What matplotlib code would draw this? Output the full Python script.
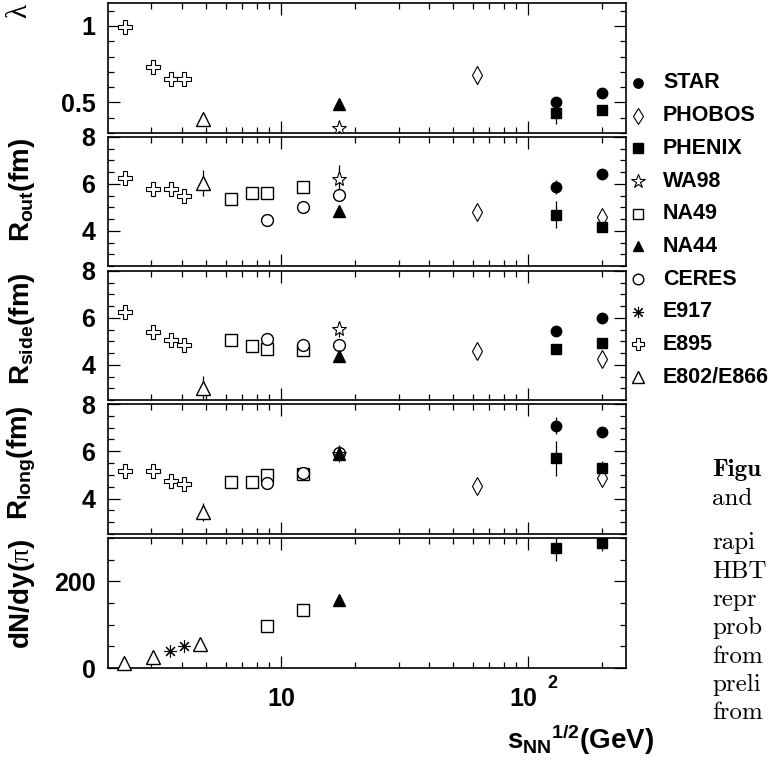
import matplotlib
matplotlib.use('Agg')
import matplotlib.pyplot as plt
from matplotlib.lines import Line2D

plt.rcParams['font.family'] = ['Liberation Sans', 'DejaVu Sans']
plt.rcParams['font.weight'] = 'bold'
plt.rcParams['mathtext.fontset'] = 'custom'
plt.rcParams['mathtext.rm'] = 'Liberation Sans:bold'
plt.rcParams['mathtext.it'] = 'Liberation Sans:bold'
plt.rcParams['mathtext.bf'] = 'Liberation Sans:bold'
plt.rcParams['mathtext.sf'] = 'Liberation Serif:normal'

# ---------------- data ----------------
STAR_s = [130, 200]
STAR_lambda = [0.50, 0.56]; STAR_lambda_err = [0.02, 0.03]
STAR_rout = [5.86, 6.41]; STAR_rout_err = [0.3, 0.1]
STAR_rside = [5.46, 6.01]; STAR_rside_err = [0.15, 0.1]
STAR_rlong = [7.08, 6.80]; STAR_rlong_err = [0.35, 0.1]

PHOBOS_s = [62.4, 200]
PHOBOS_lambda_s = [62.4]
PHOBOS_lambda = [0.68]; PHOBOS_lambda_err = [0.06]
PHOBOS_rout = [4.82, 4.58]; PHOBOS_rout_err = [0.2, 0.2]
PHOBOS_rside = [4.60, 4.25]; PHOBOS_rside_err = [0.3, 0.25]
PHOBOS_rlong = [4.55, 4.88]; PHOBOS_rlong_err = [0.1, 0.2]

PHENIX_s = [130, 200]
PHENIX_lambda = [0.43, 0.45]; PHENIX_lambda_err = [0.07, 0.02]
PHENIX_rout = [4.68, 4.16]; PHENIX_rout_err = [0.57, 0.15]
PHENIX_rside = [4.67, 4.95]; PHENIX_rside_err = [0.2, 0.15]
PHENIX_rlong = [5.70, 5.30]; PHENIX_rlong_err = [0.73, 0.3]
PHENIX_dndy = [278, 288]; PHENIX_dndy_err = [32, 18]

WA98_s = [17.3]
WA98_lambda = [0.33]; WA98_lambda_err = [0.02]
WA98_rout = [6.20]; WA98_rout_err = [0.6]
WA98_rside = [5.53]; WA98_rside_err = [0.35]
WA98_rlong = [5.90]; WA98_rlong_err = [0.35]

NA49_s = [6.27, 7.62, 8.77, 12.3]
NA49_rout = [5.35, 5.60, 5.60, 5.86]
NA49_rside = [5.06, 4.80, 4.68, 4.64]
NA49_rlong = [4.70, 4.72, 4.98, 5.02]
NA49_dndy_s = [8.77, 12.3]
NA49_dndy = [98, 133]

NA44_s = [17.3]
NA44_lambda = [0.49]
NA44_rout = [4.85]
NA44_rside = [4.38]; NA44_rside_err = [0.2]
NA44_rlong = [5.90]
NA44_dndy = [156]

CERES_s = [8.77, 12.3, 17.3]
CERES_rout = [4.47, 5.00, 5.53]; CERES_rout_err = [0.05, 0.05, 0.25]
CERES_rside = [5.10, 4.85, 4.85]; CERES_rside_err = [0.05, 0.05, 0.25]
CERES_rlong = [4.67, 5.10, 5.94]; CERES_rlong_err = [0.05, 0.05, 0.2]

E917_s = [3.58, 4.08]
E917_dndy = [40, 51]

E895_s = [2.35, 3.04, 3.59, 4.05]
E895_lambda = [0.99, 0.73, 0.65, 0.65]; E895_lambda_err = [0.04, 0.03, 0.03, 0.04]
E895_rout = [6.24, 5.77, 5.77, 5.50]; E895_rout_err = [0.1, 0.1, 0.1, 0.15]
E895_rside = [6.27, 5.42, 5.06, 4.85]; E895_rside_err = [0.1, 0.1, 0.1, 0.1]
E895_rlong = [5.16, 5.16, 4.74, 4.63]; E895_rlong_err = [0.1, 0.1, 0.1, 0.1]

E802_s = [4.87]
E802_lambda = [0.39]
E802_rout = [6.05]; E802_rout_err = [0.55]
E802_rside = [3.03]; E802_rside_err = [0.5]
E802_rlong = [3.43]; E802_rlong_err = [0.4]
E802_dndy_s = [2.32, 3.05, 4.70]
E802_dndy = [12, 26, 56]

legend_names = ['STAR', 'PHOBOS', 'PHENIX', 'WA98', 'NA49', 'NA44',
                'CERES', 'E917', 'E895', 'E802/E866']
ylabels = [r'$\mathsf{\lambda}$', r'$R_{out}(fm)$', r'$R_{side}(fm)$',
           r'$R_{long}(fm)$', r'$dN/dy(\mathsf{\pi})$']
# visible part of the caption, cut by the right edge in the source picture
caption_lines = ['Figu', 'and', 'rapi', 'HBT', 'repr',
                 'prob', 'from', 'preli', 'from']

# ---------------- styles ----------------
styles = {
    'STAR': dict(marker='o', mfc='k', ms=7.5),
    'PHOBOS': dict(marker='d', mfc='w', ms=9, mew=0.8),
    'PHENIX': dict(marker='s', mfc='k', ms=7.5),
    'WA98': dict(marker='*', mfc='w', ms=11, mew=0.8),
    'NA49': dict(marker='s', mfc='w', ms=8.5),
    'NA44': dict(marker='^', mfc='k', ms=8.5),
    'CERES': dict(marker='o', mfc='w', ms=8.5),
    'E917': dict(marker=(8, 2, 0), mfc='k', ms=9, mew=0.8),
    'E895': dict(marker='P', mfc='w', ms=9.5, mew=0.8),
    'E802/E866': dict(marker='^', mfc='w', ms=9.5),
}

W, H = 769, 763
fig = plt.figure(figsize=(W / 100, H / 100), dpi=100)
LEFT, RIGHT = 108, 626
panel_px = [(3, 133), (137, 266), (271, 400), (404, 534), (538, 668)]

panels = [
    [('E895', E895_s, E895_lambda, E895_lambda_err),
     ('E802/E866', E802_s, E802_lambda, None),
     ('NA44', NA44_s, NA44_lambda, None),
     ('WA98', WA98_s, WA98_lambda, WA98_lambda_err),
     ('PHOBOS', PHOBOS_lambda_s, PHOBOS_lambda, PHOBOS_lambda_err),
     ('STAR', STAR_s, STAR_lambda, STAR_lambda_err),
     ('PHENIX', PHENIX_s, PHENIX_lambda, PHENIX_lambda_err)],
    [('E895', E895_s, E895_rout, E895_rout_err),
     ('E802/E866', E802_s, E802_rout, E802_rout_err),
     ('NA49', NA49_s, NA49_rout, None),
     ('WA98', WA98_s, WA98_rout, WA98_rout_err),
     ('NA44', NA44_s, NA44_rout, None),
     ('CERES', CERES_s, CERES_rout, CERES_rout_err),
     ('PHOBOS', PHOBOS_s, PHOBOS_rout, PHOBOS_rout_err),
     ('STAR', STAR_s, STAR_rout, STAR_rout_err),
     ('PHENIX', PHENIX_s, PHENIX_rout, PHENIX_rout_err)],
    [('E895', E895_s, E895_rside, E895_rside_err),
     ('E802/E866', E802_s, E802_rside, E802_rside_err),
     ('NA49', NA49_s, NA49_rside, None),
     ('WA98', WA98_s, WA98_rside, WA98_rside_err),
     ('CERES', CERES_s, CERES_rside, CERES_rside_err),
     ('NA44', NA44_s, NA44_rside, NA44_rside_err),
     ('PHOBOS', PHOBOS_s, PHOBOS_rside, PHOBOS_rside_err),
     ('STAR', STAR_s, STAR_rside, STAR_rside_err),
     ('PHENIX', PHENIX_s, PHENIX_rside, PHENIX_rside_err)],
    [('E895', E895_s, E895_rlong, E895_rlong_err),
     ('E802/E866', E802_s, E802_rlong, E802_rlong_err),
     ('NA49', NA49_s, NA49_rlong, None),
     ('CERES', CERES_s, CERES_rlong, CERES_rlong_err),
     ('WA98', WA98_s, WA98_rlong, WA98_rlong_err),
     ('NA44', NA44_s, NA44_rlong, None),
     ('PHOBOS', PHOBOS_s, PHOBOS_rlong, PHOBOS_rlong_err),
     ('STAR', STAR_s, STAR_rlong, STAR_rlong_err),
     ('PHENIX', PHENIX_s, PHENIX_rlong, PHENIX_rlong_err)],
    [('E802/E866', E802_dndy_s, E802_dndy, None),
     ('E917', E917_s, E917_dndy, None),
     ('NA49', NA49_dndy_s, NA49_dndy, None),
     ('NA44', NA44_s, NA44_dndy, None),
     ('PHENIX', PHENIX_s, PHENIX_dndy, PHENIX_dndy_err)],
]

ylims = [(0.3, 1.15), (2.5, 8), (2.5, 8), (2.5, 8), (0, 300)]
ymajor = [[0.5, 1.0], [4, 6, 8], [4, 6, 8], [4, 6, 8], [0, 200]]
ymajor_lab = [['0.5', '1'], ['4', '6', '8'], ['4', '6', '8'], ['4', '6', '8'], ['0', '200']]
yminor_step = [0.1, 0.5, 0.5, 0.5, 50]
xminor = [3, 4, 5, 6, 7, 8, 9, 20, 30, 40, 50, 60, 70, 80, 90, 200]

for i, (top, bot) in enumerate(panel_px):
    ax = fig.add_axes([LEFT / W, 1 - bot / H, (RIGHT - LEFT) / W, (bot - top) / H])
    ax.set_xscale('log')
    ax.set_xlim(2, 250)
    ax.set_ylim(*ylims[i])
    for name, xs, ys, err in panels[i]:
        st = dict(styles[name])
        ms = st.pop('ms'); mew = st.pop('mew', 1.0)
        ax.errorbar(xs, ys, yerr=err, fmt='none', ecolor='k', elinewidth=0.9, capsize=0, zorder=2)
        ax.plot(xs, ys, ls='none', color='k', mec='k', ms=ms, mew=mew, zorder=3,
                clip_on=(i != 4), **st)
    ax.set_xticks([10, 100])
    ax.set_xticks(xminor, minor=True)
    ax.set_xticklabels([])
    ax.set_xticklabels([], minor=True)
    ax.set_yticks(ymajor[i])
    ax.set_yticklabels(ymajor_lab[i])
    lo, hi = ylims[i]
    step = yminor_step[i]
    mins = []
    v = round(lo / step) * step
    while v <= hi + 1e-9:
        if v >= lo - 1e-9:
            mins.append(v)
        v = round(v + step, 6)
    ax.set_yticks(mins, minor=True)
    ax.tick_params(which='both', direction='in', top=True, right=True,
                   labelsize=18, pad=9, width=0.9)
    ax.tick_params(which='major', length=8.5)
    ax.tick_params(which='minor', length=4.5)
    for lab in ax.get_yticklabels():
        lab.set_fontweight('bold')
    for sp in ax.spines.values():
        sp.set_linewidth(1.2)
    if i == 0:
        fig.text(19 / W, 1 - 3 / H, ylabels[i], rotation=90, ha='center',
                 va='top', fontsize=21)
    else:
        fig.text(22 / W, 1 - (top + 1) / H, ylabels[i], rotation=90, ha='center',
                 va='top', fontsize=20)

# x tick labels and axis title
fig.text(281 / W, 1 - 699 / H, '10', ha='center', va='center', fontsize=18)
fig.text(523 / W, 1 - 699 / H, '10', ha='center', va='center', fontsize=18)
fig.text(552 / W, 1 - 683 / H, '2', ha='center', va='center', fontsize=13)
fig.text(580 / W, 1 - 740 / H, r'$s_{NN}{}^{1/2}(GeV)$', ha='center', va='center', fontsize=20)

# legend
for k, name in enumerate(legend_names):
    y = 83 + k * 32.67
    st = dict(styles[name])
    ms = st.pop('ms'); mew = st.pop('mew', 1.0)
    fig.add_artist(Line2D([638 / W], [1 - y / H], transform=fig.transFigure, ls='none',
                          color='k', mec='k', ms=ms * 0.9, mew=mew, **st))
    fig.text(663 / W, 1 - y / H, name, ha='left', va='center', fontsize=15.5)

# caption fragment
cap_y = [470, 499, 543, 572, 600, 628, 657, 685, 713]
for k, (line, y) in enumerate(zip(caption_lines, cap_y)):
    fig.text(712 / W, 1 - y / H, line, ha='left', va='center', fontsize=18,
             family='cmb10' if k == 0 else 'cmr10', fontweight='normal')

fig.savefig('out.png', dpi=100)
